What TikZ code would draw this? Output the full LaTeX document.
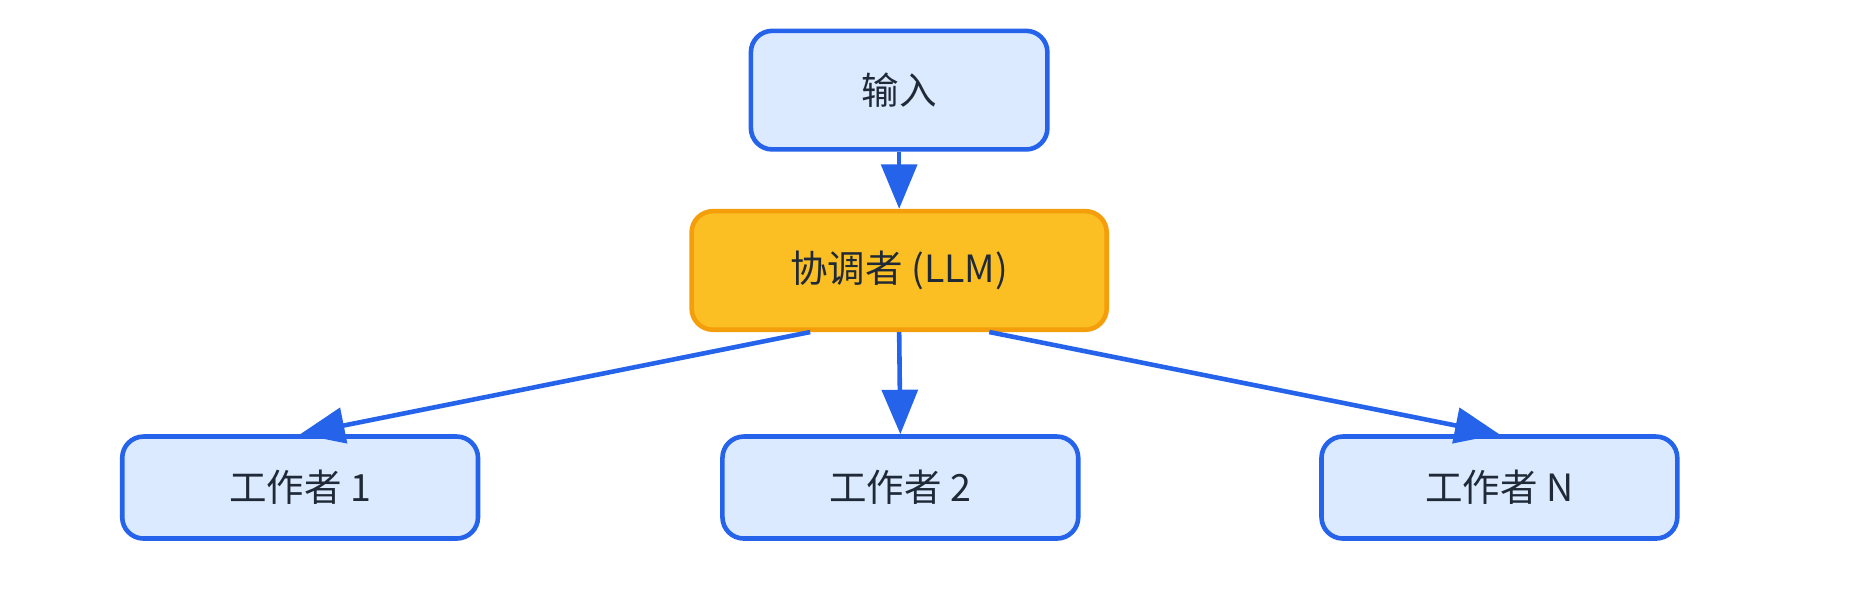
\documentclass[tikz,border=0pt]{standalone}
\usepackage{fontspec}
\setmainfont{Noto Sans CJK SC}
\usetikzlibrary{arrows.meta,calc}
\definecolor{bl}{HTML}{2563EB}
\definecolor{lb}{HTML}{DBEAFE}
\definecolor{yf}{HTML}{FBBF24}
\definecolor{yd}{HTML}{F59E0B}
\definecolor{tx}{HTML}{1F2937}
\begin{document}
\begin{tikzpicture}[x=0.02cm,y=-0.02cm,
  box/.style={draw=bl,fill=lb,line width=2.2pt,rounded corners=0.36cm,minimum width=5.0cm,minimum height=1.72cm,inner sep=0pt,text=tx,font=\fontsize{18}{20}\selectfont},
  arr/.style={draw=bl,line width=2.2pt,-{Triangle[length=0.75cm,width=0.6cm]}}]
\useasboundingbox (0,0) rectangle (1568,506);
\node[box,minimum height=2.0cm] (in) at (758,76) {输入};
\node[box,draw=yd,fill=yf,minimum width=7.0cm,minimum height=2.0cm] (co) at (758,228) {协调者 (LLM)};
\node[box,minimum width=6.0cm] (w1) at (253,411) {工作者 1};
\node[box,minimum width=6.0cm] (w2) at (759,411) {工作者 2};
\node[box,minimum width=6.0cm] (wn) at (1264,411) {工作者 N};
\draw[arr] (in.south) -- (co.north);
\draw[arr] ($(co.south)+(-75,0)$) -- (w1.north);
\draw[arr] (co.south) -- (w2.north);
\draw[arr] ($(co.south)+(76,0)$) -- (wn.north);
\end{tikzpicture}
\end{document}
